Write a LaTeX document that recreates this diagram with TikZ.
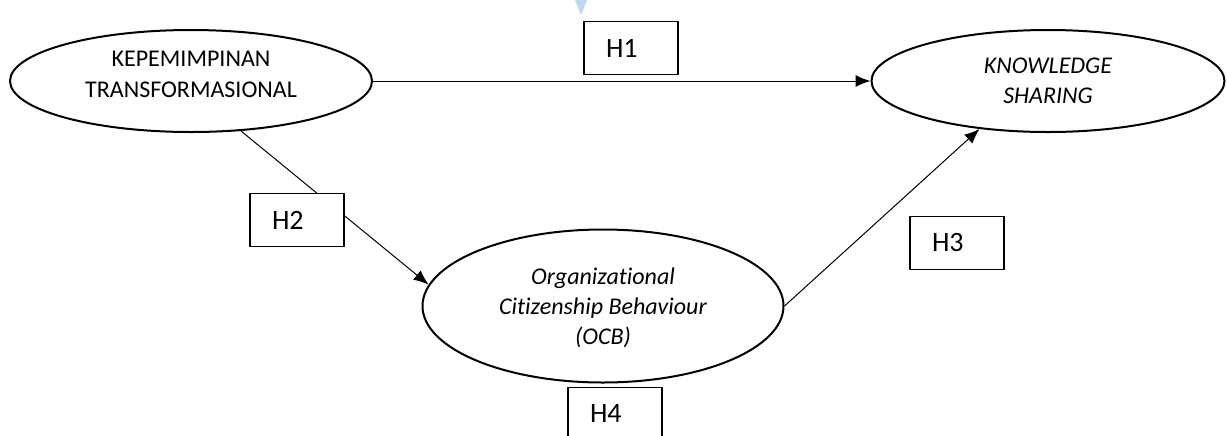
\documentclass[tikz,border=0pt]{standalone}
\usepackage{fontspec}
\setmainfont{Carlito}[Ligatures=CommonOff]
\usetikzlibrary{shapes.geometric,arrows.meta}
\begin{document}
\begin{tikzpicture}
  [x=0.5pt,y=-0.5pt,every node/.style={font=\fontsize{12}{15.5}\selectfont}]
  \tikzstyle{var} = [ellipse,draw,line width=1pt,inner sep=0pt,align=center]
  \tikzstyle{hyp} = [rectangle,draw,fill=white,line width=0.7pt,minimum height=26.5pt,
                     text width=25pt,inner xsep=11pt,align=left,font=\fontsize{14}{16}\selectfont]
  \tikzstyle{link} = [line width=0.5pt,-{Latex[length=7.5pt,width=6pt]}]
  \useasboundingbox (0,0) rectangle (1227,435);
  \fill[color={rgb,255:red,189;green,215;blue,238}] (575,0) -- (587,0) -- (581,15) -- cycle;

  \node[var,minimum width=181pt,minimum height=51pt,text depth=7pt] (kep) at (191,81)
    {KEPEMIMPINAN\\TRANSFORMASIONAL};
  \node[var,minimum width=176.5pt,minimum height=51pt,
        font=\fontsize{12}{15}\selectfont\itshape] (ks) at (1048,81) {KNOWLEDGE\\SHARING};
  \node[var,minimum width=180.5pt,minimum height=76.5pt,text depth=-6pt,
        font=\fontsize{12}{15}\selectfont\itshape] (ocb) at (603,306)
    {Organizational\\Citizenship Behaviour\\(OCB)};

  \draw[link] (kep) -- (ks);
  \draw[link] (kep.-45) -- (ocb.173);
  \draw[link] (ocb.east) -- (ks.215);

  \foreach \num/\x/\y in {1/631/48,2/297/220,3/957/243,4/615/414}
    \node[hyp] (h\num) at (\x,\y) {H\num};

\end{tikzpicture}
\end{document}
